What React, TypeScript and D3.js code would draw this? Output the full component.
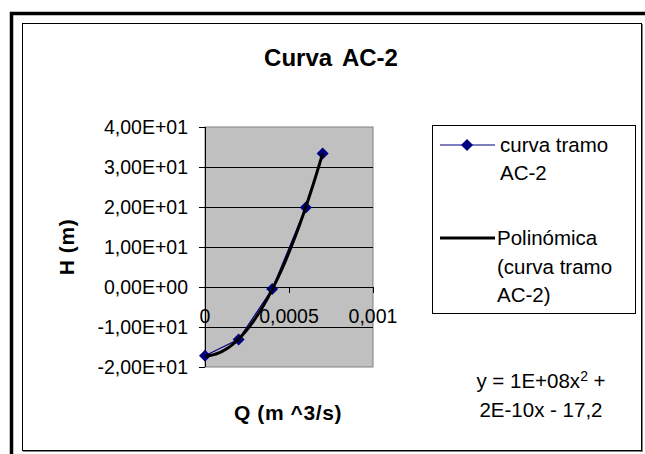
import * as d3 from 'd3';

// caudal (m^3/s) y altura (m)
const caudal = [0, 0.0002, 0.0004, 0.0006, 0.0007];
const altura = [-17.2, -13.1, -0.5, 19.9, 33.4];
const yTicks = [-20, -10, 0, 10, 20, 30, 40];
const xTicks = [0, 0.0005, 0.001];
const legendSerie = ['curva tramo', 'AC-2'];
const legendTrend = ['Polinómica', '(curva tramo', 'AC-2)'];
const equation = ['y = 1E+08x', '2E-10x - 17,2'];

const FONT = '"Liberation Sans", Arial, sans-serif';
const PLOT = { left: 205, right: 373, top: 127, bottom: 367 };

// ajuste polinomico de grado 2 (minimos cuadrados)
function quadFit(xs: number[], ys: number[]) {
  const s = (f: (x: number, y: number) => number) => d3.sum(xs, (x, i) => f(x, ys[i]));
  const n = xs.length;
  const sx = s((x) => x), sx2 = s((x) => x * x), sx3 = s((x) => x ** 3), sx4 = s((x) => x ** 4);
  const sy = s((_, y) => y), sxy = s((x, y) => x * y), sx2y = s((x, y) => x * x * y);
  const A = [
    [sx4, sx3, sx2, sx2y],
    [sx3, sx2, sx, sxy],
    [sx2, sx, n, sy],
  ];
  for (let i = 0; i < 3; i++) {
    for (let k = i + 1; k < 3; k++) {
      const f = A[k][i] / A[i][i];
      for (let j = i; j < 4; j++) A[k][j] -= f * A[i][j];
    }
  }
  const c = [0, 0, 0];
  for (let i = 2; i >= 0; i--) {
    let v = A[i][3];
    for (let j = i + 1; j < 3; j++) v -= A[i][j] * c[j];
    c[i] = v / A[i][i];
  }
  return (x: number) => c[0] * x * x + c[1] * x + c[2];
}

const fmtY = (v: number) => {
  if (v === 0) return '0,00E+00';
  const e = Math.floor(Math.log10(Math.abs(v)));
  const m = v / 10 ** e;
  return `${m.toFixed(2).replace('.', ',')}E${e >= 0 ? '+' : '-'}${String(Math.abs(e)).padStart(2, '0')}`;
};
const fmtX = (v: number) => String(v).replace('.', ',');

export default function App() {
  const x = d3.scaleLinear().domain([0, 0.001]).range([PLOT.left, PLOT.right]);
  const y = d3.scaleLinear().domain([-20, 40]).range([PLOT.bottom, PLOT.top]);

  const pts = caudal.map((q, i) => [q, altura[i]] as [number, number]);
  const serieLine = d3
    .line<[number, number]>()
    .x((d) => x(d[0]))
    .y((d) => y(d[1]));

  const fit = quadFit(caudal, altura);
  const xMax = d3.max(caudal) as number;
  const trend = d3.range(0, 61).map((i) => {
    const q = (xMax * i) / 60;
    return [q, fit(q)] as [number, number];
  });

  const diamond = d3.symbol(d3.symbolSquare, 72)() as string;

  return (
    <div style={{ position: 'fixed', left: 0, top: 0 }}>
      <svg width={645} height={454} style={{ display: 'block', fontFamily: FONT }}>
        <rect width={645} height={454} fill='#fff' />
        {/* marco exterior */}
        <rect x={11.5} y={13.5} width={645} height={460} fill='none' stroke='#000' strokeWidth={3.5} />
        {/* marco del grafico */}
        <rect x={22.5} y={23.5} width={619} height={427} fill='#fff' stroke='#000' />
        <line x1={23} x2={642} y1={451.5} y2={451.5} stroke='#808080' />
        <line x1={642.5} x2={642.5} y1={24} y2={452} stroke='#808080' />

        <text x={331} y={66} textAnchor='middle' fontSize={24} fontWeight='bold' style={{ wordSpacing: 4 }}>
          Curva AC-2
        </text>

        {/* area de trazado */}
        <rect
          x={PLOT.left}
          y={PLOT.top}
          width={PLOT.right - PLOT.left}
          height={PLOT.bottom - PLOT.top}
          fill='#c0c0c0'
          stroke='#808080'
        />
        {yTicks.map((t) => (
          <g key={t}>
            {t !== -20 && t !== 40 && (
              <line x1={PLOT.left} x2={PLOT.right} y1={Math.round(y(t)) + 0.5} y2={Math.round(y(t)) + 0.5} stroke='#000' />
            )}
            <line x1={PLOT.left - 6} x2={PLOT.left} y1={Math.round(y(t)) + 0.5} y2={Math.round(y(t)) + 0.5} stroke='#000' />
            <text x={188} y={y(t)} dy='0.35em' textAnchor='end' fontSize={19.5}>
              {fmtY(t)}
            </text>
          </g>
        ))}
        <line x1={PLOT.left + 0.5} x2={PLOT.left + 0.5} y1={PLOT.top} y2={PLOT.bottom} stroke='#000' />
        <line x1={PLOT.left} x2={PLOT.right} y1={Math.round(y(0)) + 0.5} y2={Math.round(y(0)) + 0.5} stroke='#000' />
        {xTicks.map((t) => (
          <g key={t}>
            <line x1={Math.round(x(t)) + 0.5} x2={Math.round(x(t)) + 0.5} y1={y(0)} y2={y(0) + 6} stroke='#000' />
            <text x={x(t)} y={323} textAnchor='middle' fontSize={19.5}>
              {fmtX(t)}
            </text>
          </g>
        ))}

        <path d={serieLine(pts) as string} fill='none' stroke='#000080' strokeWidth={1.2} />
        {pts.map((d, i) => (
          <path key={i} d={diamond} transform={`translate(${x(d[0])},${y(d[1])}) rotate(45)`} fill='#000080' />
        ))}
        <path
          d={d3.line<[number, number]>().x((d) => x(d[0])).y((d) => y(d[1])).curve(d3.curveBasis)(trend) as string}
          fill='none'
          stroke='#000'
          strokeWidth={3}
        />

        <text x={288} y={420} textAnchor='middle' fontSize={21} fontWeight='bold' style={{ letterSpacing: 0.6 }}>
          Q (m ^3/s)
        </text>
        <text
          transform={`translate(74,${(PLOT.top + PLOT.bottom) / 2}) rotate(-90)`}
          textAnchor='middle'
          fontSize={21}
          fontWeight='bold'
          style={{ letterSpacing: 0.6 }}
        >
          H (m)
        </text>

        {/* leyenda */}
        <rect x={432.5} y={125.5} width={203} height={188} fill='#fff' stroke='#000' />
        <line x1={440} x2={495} y1={145} y2={145} stroke='#000080' strokeWidth={1.2} />
        <path d={diamond} transform='translate(467,145) rotate(45)' fill='#000080' />
        {legendSerie.map((s, i) => (
          <text key={s} x={500} y={152 + i * 28} fontSize={20.5}>
            {s}
          </text>
        ))}
        <line x1={440} x2={495} y1={238} y2={238} stroke='#000' strokeWidth={3} />
        {legendTrend.map((s, i) => (
          <text key={s} x={497} y={245 + i * 28.5} fontSize={20.5}>
            {s}
          </text>
        ))}

        <text x={541} y={388} textAnchor='middle' fontSize={20.5}>
          {equation[0]}
          <tspan dy={-7} fontSize={14}>2</tspan>
          <tspan dy={7}> +</tspan>
        </text>
        <text x={541} y={417} textAnchor='middle' fontSize={20.5}>
          {equation[1]}
        </text>
      </svg>
    </div>
  );
}
